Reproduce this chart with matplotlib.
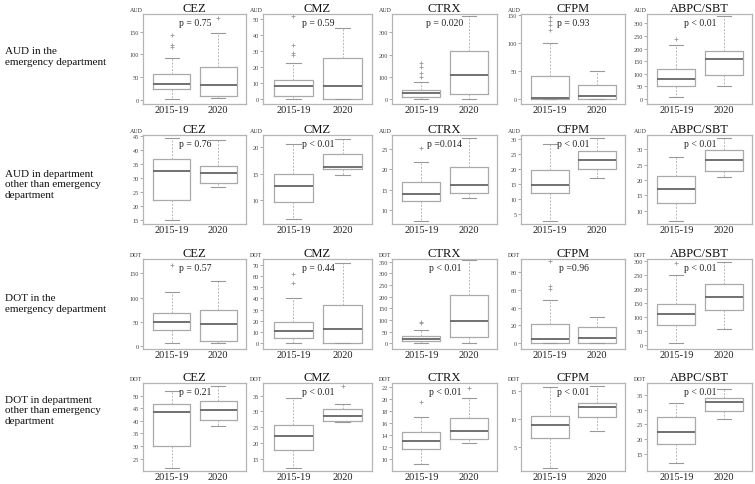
import matplotlib
matplotlib.use("Agg")
import matplotlib.pyplot as plt

plt.rcParams['font.family'] = ['Liberation Serif', 'DejaVu Serif']

groups = ["2015-19", "2020"]
drugs = ["CEZ", "CMZ", "CTRX", "CFPM", "ABPC/SBT"]
row_labels = [
    "AUD in the\nemergency department",
    "AUD in department\nother than emergency\ndepartment",
    "DOT in the\nemergency department",
    "DOT in department\nother than emergency\ndepartment",
]
units = ["AUD", "AUD", "DOT", "DOT"]

# each row: 5 drugs, each drug: (2015-19, 2020)
whisker_lo = [
    [(2, 4), (0, 0), (0, 0), (0, 0), (7, 53)],
    [(15, 26.7), (6.3, 14.8), (7.3, 13.05), (2.6, 17.1), (6.8, 21.1)],
    [(5, 5), (0, 0), (0, 0), (0, 0), (5, 56)],
    [(21.4, 37.8), (12.2, 26.5), (9.1, 12.7), (1.3, 8.0), (12, 26.7)],
]
q1 = [
    [(24, 8), (2, 0), (10, 24), (0, 0), (50, 97)],
    [(22, 28), (9.6, 15.8), (12.3, 14.2), (12, 19.8), (12.4, 23)],
    [(33, 9), (4.6, 0), (9, 28), (0, 0), (71, 124)],
    [(30, 40.5), (17.7, 27.1), (11.7, 13.3), (6.6, 10.4), (18.5, 29.5)],
]
median = [
    [(35, 32), (8, 8), (27, 106), (2, 6), (80, 160)],
    [(32.5, 31.8), (12.6, 16.3), (13.8, 16.2), (14.7, 23), (17.2, 26.6)],
    [(50, 45), (10.7, 12.4), (19, 96), (3.8, 5.7), (110, 169)],
    [(43.4, 44.1), (22.1, 28.4), (13.0, 14.7), (9.0, 12.3), (22.4, 32.6)],
]
q3 = [
    [(58, 72), (12, 25.5), (41, 218), (40, 25), (120, 192)],
    [(36.8, 34.3), (15, 18.8), (16.8, 20.6), (19.5, 25.9), (21.4, 29.9)],
    [(68, 74), (19, 34), (33, 207), (21.5, 17.7), (144, 218)],
    [(46.5, 47.8), (25.7, 30.9), (14.4, 16.8), (10.7, 13.0), (27.6, 34.0)],
]
whisker_hi = [
    [(93, 148), (22.5, 44.5), (77, 373), (100, 50), (215, 330)],
    [(44, 43.3), (20.6, 21.7), (21.8, 27.5), (28.2, 30.3), (27.6, 33.6)],
    [(112, 135), (40, 71.5), (56, 355), (48, 29.4), (249, 296)],
    [(51.7, 53.7), (34.3, 32.5), (17.0, 20.1), (15.7, 15.9), (32.2, 37.0)],
]
outliers = [
    [([117, 121, 143], [181]), ([27.5, 28.5, 34, 51.5], []),
     ([98, 118, 145, 163], []), ([122, 132, 139, 145], []), ([238], [])],
    [([], []), ([], []), ([25.1], []), ([], []), ([], [])],
    [([168], []), ([53.5, 61.5], []), ([88, 93], []),
     ([61, 64, 93], []), ([290], [])],
    [([], []), ([], [38.2]), ([19.4], [21.8]), ([], []), ([], [])],
]
p_texts = [
    ["p = 0.75", "p = 0.59", "p = 0.020", "p = 0.93", "p < 0.01"],
    ["p = 0.76", "p < 0.01", "p =0.014", "p < 0.01", "p < 0.01"],
    ["p = 0.57", "p = 0.44", "p < 0.01", "p =0.96", "p < 0.01"],
    ["p = 0.21", "p < 0.01", "p < 0.01", "p < 0.01", "p < 0.01"],
]

# axis ranges and ticks (layout)
ylims = [
    [(-9, 189), (-3, 53), (-23, 383), (-9, 151), (-20, 337)],
    [(13.6, 45.2), (5.3, 22.4), (6.6, 28.3), (1.7, 31.2), (5.7, 34.7)],
    [(-6.6, 180), (-5, 75), (-24, 361), (-7, 95), (-16, 306)],
    [(20.1, 55), (11.1, 39), (8, 22.6), (0.8, 16.5), (9.2, 39)],
]
yticks = [
    [range(0, 151, 50), range(0, 51, 10), range(0, 301, 100), range(0, 151, 50), range(0, 301, 50)],
    [range(15, 46, 5), range(10, 21, 5), range(10, 26, 5), range(5, 31, 5), range(10, 31, 5)],
    [range(0, 151, 50), range(0, 71, 10), range(0, 351, 50), range(0, 81, 20), range(0, 301, 50)],
    [range(25, 51, 5), range(15, 36, 5), range(10, 23, 2), range(5, 16, 5), range(15, 36, 5)],
]

W, H = 755, 485
col_px = [(143, 246), (263, 372), (392, 497), (521, 625), (647, 752)]
row_px = [(15, 105), (136, 225), (260, 350), (384, 472)]
label_y_px = [57, 185, 304, 411]

fig = plt.figure(figsize=(W / 100, H / 100), dpi=100)

edge = '#aaaaaa'
for r in range(4):
    fig.text(5 / W, 1 - label_y_px[r] / H, row_labels[r], ha='left', va='center',
             fontsize=8, color='#111111', linespacing=1.2)
    for c in range(5):
        x0, x1 = col_px[c]
        y0, y1 = row_px[r]
        ax = fig.add_axes([x0 / W, 1 - y1 / H, (x1 - x0) / W, (y1 - y0) / H])
        stats = []
        for g in range(2):
            stats.append(dict(
                med=median[r][c][g], q1=q1[r][c][g], q3=q3[r][c][g],
                whislo=whisker_lo[r][c][g], whishi=whisker_hi[r][c][g],
                fliers=outliers[r][c][g], label=groups[g]))
        ax.bxp(stats, positions=[1, 2], widths=0.8, capwidths=0.3,
               boxprops=dict(color=edge, lw=0.9),
               medianprops=dict(color='#666666', lw=1.3),
               whiskerprops=dict(color='#b8b8b8', lw=0.7, ls=(0, (2, 1.5))),
               capprops=dict(color='#999999', lw=0.8),
               flierprops=dict(marker='+', markersize=2.5, markeredgecolor='#9a9a9a',
                               markeredgewidth=0.6, linestyle='none'))
        ax.set_xlim(0.38, 2.6)
        ax.set_ylim(*ylims[r][c])
        ax.set_yticks(list(yticks[r][c]))
        ax.set_xticks([1, 2])
        ax.set_xticklabels(groups)
        ax.tick_params(axis='x', length=0, labelsize=7.5, pad=0.8, labelcolor='#222222')
        ax.tick_params(axis='y', length=2, width=0.5, color='#888888',
                       labelsize=4.5, pad=1, labelcolor='#444444')
        for s in ax.spines.values():
            s.set_color('#b5b5b5')
            s.set_linewidth(0.9)
        ax.set_title(drugs[c], fontsize=9, pad=2, color='#111111')
        ax.text(1.5, 0.905, p_texts[r][c], transform=ax.get_xaxis_transform(),
                ha='center', va='center', fontsize=7, color='#222222')
        ax.text(-0.005, 1.055, units[r], transform=ax.transAxes, ha='right', va='center',
                fontsize=4.3, color='#333333')

fig.savefig("out.png", dpi=100)
